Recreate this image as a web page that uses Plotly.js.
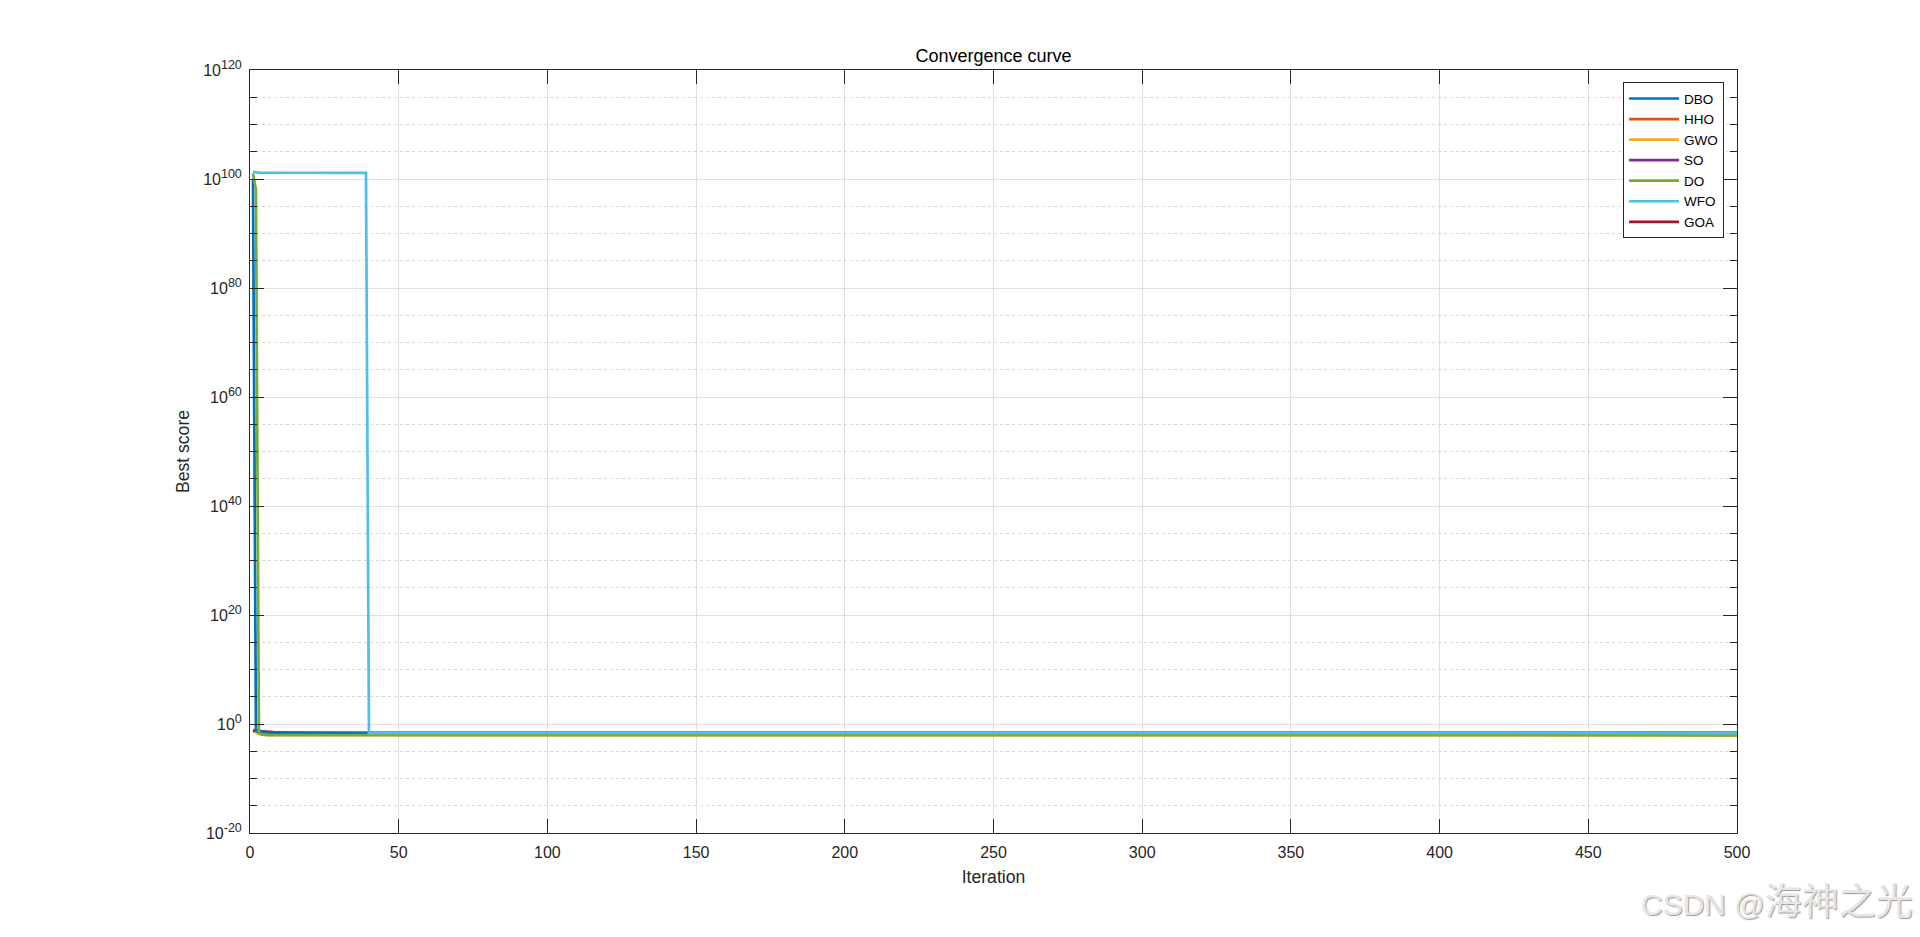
<!DOCTYPE html>
<html>
<head>
<meta charset="utf-8">
<script src="https://cdn.plot.ly/plotly-3.0.1.min.js"></script>
<style>
  html, body { margin: 0; padding: 0; background: #ffffff; }
  #chart { width: 1920px; height: 937px; }
</style>
</head>
<body>
<div id="chart"></div>
<script>
// ---- Data ----
const seriesNames = ["DBO", "HHO", "GWO", "SO", "DO", "WFO", "GOA"];
const seriesColors = ["#0072BD", "#D95319", "#EDB120", "#7E2F8E", "#77AC30", "#4DBEEE", "#A2142F"];

// iterations at which the value changes (flat in between)
const iterDBO = [1, 2, 3, 6, 15, 40, 500];
const valDBO  = [1e100, 0.06, 0.045, 0.032, 0.024, 0.021, 0.021];

const iterHHO = [1, 2, 4, 8, 20, 500];
const valHHO  = [0.07, 0.06, 0.04, 0.028, 0.022, 0.021];

const iterGWO = [1, 2, 3, 6, 500];
const valGWO  = [0.05, 0.03, 0.015, 0.0095, 0.0085];

const iterSO  = [1, 2, 4, 10, 25, 500];
const valSO   = [0.065, 0.05, 0.035, 0.026, 0.021, 0.021];

const iterDO  = [1, 2, 3, 4, 6, 500];
const valDO   = [1e101, 1e98, 0.02, 0.011, 0.0088, 0.0085];

const iterWFO = [1, 3, 39, 40, 500];
const valWFO  = [2e101, 1.5e101, 1.3e101, 0.024, 0.022];

const iterGOA = [1, 2, 5, 12, 30, 500];
const valGOA  = [0.075, 0.055, 0.035, 0.025, 0.021, 0.021];

// tick labels
const xTickVals = [0, 50, 100, 150, 200, 250, 300, 350, 400, 450, 500];
const yTickExponents = [-20, 0, 20, 40, 60, 80, 100, 120];
const yMinorExponents = [-15, -10, -5, 5, 10, 15, 25, 30, 35, 45, 50, 55, 65, 70, 75, 85, 90, 95, 105, 110, 115];

// ---- Build traces ----
const xs = [iterDBO, iterHHO, iterGWO, iterSO, iterDO, iterWFO, iterGOA];
const ys = [valDBO, valHHO, valGWO, valSO, valDO, valWFO, valGOA];
// drawing order (GOA underneath, WFO on top) while legend keeps original order
const drawOrder = [6, 2, 1, 3, 0, 4, 5];
const traces = drawOrder.map(function (i) {
  return {
    x: xs[i], y: ys[i], name: seriesNames[i],
    type: "scatter", mode: "lines",
    line: { color: seriesColors[i], width: 2.7 },
    legendrank: i + 1,
    hoverinfo: "skip"
  };
});

const FONT = "Liberation Sans, Arial, Helvetica, sans-serif";
const AX = "#262626";

const layout = {
  width: 1920, height: 937,
  paper_bgcolor: "#ffffff", plot_bgcolor: "#ffffff",
  margin: { l: 250, r: 183, t: 70, b: 104 },
  font: { family: FONT, size: 16, color: AX },
  showlegend: true,
  title: {
    text: "Convergence curve",
    font: { family: FONT, size: 18, color: "#000000" },
    xref: "paper", x: 0.5, xanchor: "center",
    yref: "container", y: 1 - 56 / 937, yanchor: "middle"
  },
  xaxis: {
    range: [0, 500],
    tickmode: "array", tickvals: xTickVals,
    ticks: "inside", ticklen: 14, tickwidth: 1, tickcolor: AX,
    showline: true, linecolor: AX, linewidth: 1, mirror: "allticks",
    showgrid: true, gridcolor: "#dfdfdf", gridwidth: 1,
    zeroline: false,
    tickfont: { family: FONT, size: 16, color: AX },
    ticklabelstandoff: 5,
    title: { text: "Iteration", font: { family: FONT, size: 17.6, color: AX }, standoff: 10 }
  },
  yaxis: {
    type: "log",
    range: [-20, 120],
    tickmode: "array",
    tickvals: yTickExponents.map(function (e) { return Math.pow(10, e); }),
    ticktext: yTickExponents.map(function (e) {
      return "10<sup><span style=\"font-size:12.5px\">" + e + "</span></sup>";
    }),
    ticks: "inside", ticklen: 14, tickwidth: 1, tickcolor: AX,
    showline: true, linecolor: AX, linewidth: 1, mirror: "allticks",
    showgrid: true, gridcolor: "#dfdfdf", gridwidth: 1,
    zeroline: false,
    tickfont: { family: FONT, size: 16, color: AX },
    ticklabelstandoff: 4,
    minor: {
      tickmode: "array",
      tickvals: yMinorExponents.map(function (e) { return Math.pow(10, e); }),
      ticks: "inside", ticklen: 7, tickwidth: 1, tickcolor: AX,
      showgrid: true, gridcolor: "#d6d6d6", griddash: "3px,3px", gridwidth: 1
    },
    title: { text: "Best score", font: { family: FONT, size: 17.6, color: AX }, standoff: 8 }
  },
  legend: {
    x: 0.9913, xanchor: "right", xref: "paper",
    y: 0.984, yanchor: "top", yref: "paper",
    bgcolor: "#ffffff", bordercolor: AX, borderwidth: 1,
    font: { family: FONT, size: 13.5, color: "#000000" },
    traceorder: "normal",
    tracegroupgap: 0,
    itemwidth: 50
  },
  annotations: [{
    text: "CSDN @<span style=\"font-size:37px\">海神之光</span>",
    xref: "paper", yref: "paper",
    x: (1915 - 250) / 1487, y: (833 - 903) / 763,
    xanchor: "right", yanchor: "middle",
    showarrow: false,
    font: { family: "Liberation Sans, Noto Sans CJK SC, sans-serif", size: 30, color: "#e6e6e6",
            shadow: "1px 1px 1px #9a9a9a" }
  }]
};

Plotly.newPlot("chart", traces, layout, { displayModeBar: false, staticPlot: true }).then(function () {
  // longer legend line samples, as in the reference
  document.querySelectorAll(".legend .legendlines path").forEach(function (p) {
    p.setAttribute("d", "M5,0h50");
  });
});
</script>
</body>
</html>
